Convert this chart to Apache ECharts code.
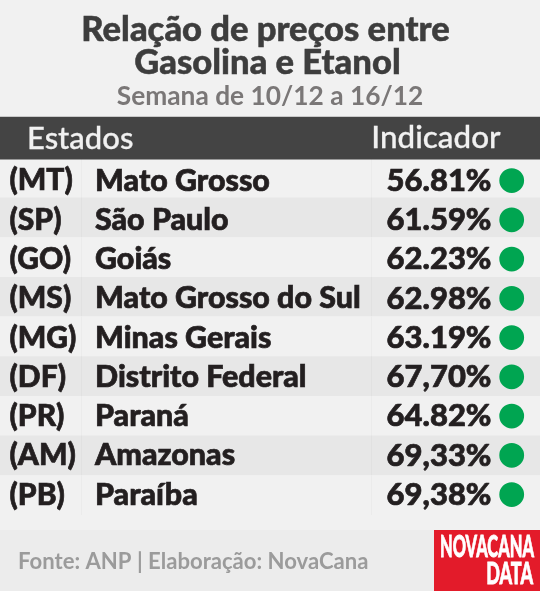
<!DOCTYPE html>
<html><head><meta charset="utf-8">
<style>html,body{margin:0;padding:0;background:#f1f1f1}#c{width:540px;height:591px}</style>
<script src="https://cdn.jsdelivr.net/npm/echarts@6/dist/echarts.min.js"></script></head>
<body><div id="c"></div>
<script>
const titleLine1 = 'Relação de preços entre';
const titleLine2 = 'Gasolina e Etanol';
const subtitleText = 'Semana de 10/12 a 16/12';
const headerLeft = 'Estados';
const headerRight = 'Indicador';
const codes = ['(MT)','(SP)','(GO)','(MS)','(MG)','(DF)','(PR)','(AM)','(PB)'];
const states = ['Mato Grosso','São Paulo','Goiás','Mato Grosso do Sul','Minas Gerais','Distrito Federal','Paraná','Amazonas','Paraíba'];
const indicatorLabels = ['56.81%','61.59%','62.23%','62.98%','63.19%','67,70%','64.82%','69,33%','69,38%'];
const sourceText = 'Fonte: ANP | Elaboração: NovaCana';

const FONT = 'Lato';
const chart = echarts.init(document.getElementById('c'), null, {renderer:'canvas'});
const tableData = codes.map((c,i)=>[i,c,states[i],indicatorLabels[i]]);

function renderBand(params, api){
  const i = api.value(0);
  const yc = api.coord([0,i])[1];
  const h = api.size([0,1])[1];
  const top = yc - h/2;
  return {type:'group',children:[
    {type:'rect',shape:{x:0,y:top,width:540,height:h},style:{fill:i%2?'#e7e7e7':'#f1f1f1'}},
    {type:'rect',shape:{x:81,y:top,width:1,height:h},style:{fill:i%2?'#e1e1e1':'#ebebeb'}},
    {type:'rect',shape:{x:371,y:top,width:1,height:h},style:{fill:i%2?'#e1e1e1':'#ebebeb'}}
  ]};
}
function renderRow(params, api){
  const i = api.value(0);
  const yc = api.coord([0,i])[1];
  const xOf = v => api.coord([v,i])[0];
  const txt = (x,text,align,size) => ({type:'text',style:{x:xOf(x),y:yc+0.8,text,textAlign:align,textVerticalAlign:'middle',fill:'#231f20',stroke:'#231f20',lineWidth:0.7,font:`900 ${size}px ${FONT}`}});
  return {type:'group',children:[
    txt(9.5,api.value(1),'left',30),
    txt(95,api.value(2),'left',30.4),
    txt(491.5,api.value(3),'right',31),
    {type:'circle',shape:{cx:xOf(511.7),cy:yc+0.5,r:12.4},style:{fill:'#00a551'}}
  ]};
}

chart.setOption({
  animation:false,
  backgroundColor:'#f1f1f1',
  grid:[
    {left:0,right:0,top:157.9,height:357},
    {left:0,right:0,top:160.4,height:353.3}
  ],
  xAxis:[
    {type:'value',gridIndex:0,min:0,max:540,show:false},
    {type:'value',gridIndex:1,min:0,max:540,show:false}
  ],
  yAxis:[
    {type:'category',gridIndex:0,inverse:true,data:codes,show:false},
    {type:'category',gridIndex:1,inverse:true,data:codes,show:false}
  ],
  series:[
    {type:'custom',xAxisIndex:0,yAxisIndex:0,data:tableData,renderItem:renderBand,encode:{x:0,y:0},clip:false,silent:true,z:2},
    {type:'custom',xAxisIndex:1,yAxisIndex:1,data:tableData,renderItem:renderRow,encode:{x:0,y:0},clip:false,silent:true,z:3}
  ],
  graphic:[
    {type:'text',z:5,style:{x:265.5,y:30,text:titleLine1,textAlign:'center',textVerticalAlign:'middle',fill:'#3d3d3d',stroke:'#3d3d3d',lineWidth:0.5,font:`900 34.6px ${FONT}`}},
    {type:'text',z:5,style:{x:267.5,y:63,text:titleLine2,textAlign:'center',textVerticalAlign:'middle',fill:'#3d3d3d',stroke:'#3d3d3d',lineWidth:0.5,font:`900 34.6px ${FONT}`}},
    {type:'text',z:5,style:{x:270,y:97,text:subtitleText,textAlign:'center',textVerticalAlign:'middle',fill:'#7a7777',font:`700 26.3px ${FONT}`}},
    {type:'rect',z:5,shape:{x:0,y:117,width:540,height:42.5},style:{fill:'#444444'}},
    {type:'rect',z:5,shape:{x:0,y:116,width:540,height:1},style:{fill:'#c9c9c9'}},
    {type:'text',z:6,style:{x:27,y:139,text:headerLeft,textVerticalAlign:'middle',fill:'#f1f1f1',stroke:'#f1f1f1',lineWidth:0.3,font:`500 31px ${FONT}`}},
    {type:'text',z:6,style:{x:500.5,y:138,text:headerRight,textAlign:'right',textVerticalAlign:'middle',fill:'#f1f1f1',stroke:'#f1f1f1',lineWidth:0.3,font:`500 31.4px ${FONT}`}},
    {type:'rect',z:1,shape:{x:0,y:530,width:540,height:61},style:{fill:'#ececec'}},
    {type:'text',z:6,style:{x:18,y:562,text:sourceText,textVerticalAlign:'middle',fill:'#9b9b9b',font:`700 22.1px ${FONT}`}},
    {type:'rect',z:6,shape:{x:434,y:530,width:106,height:61},style:{fill:'#e31b2a'}},
    {type:'text',z:7,x:440,y:547,scaleX:0.53,style:{x:0,y:0,text:'NOVACANA',textVerticalAlign:'middle',fill:'#fff',stroke:'#fff',lineWidth:0.8,font:`900 31px ${FONT}`}},
    {type:'text',z:7,x:533,y:574,scaleX:0.58,style:{x:0,y:0,text:'DATA',textAlign:'right',textVerticalAlign:'middle',fill:'#fff',stroke:'#fff',lineWidth:0.8,font:`900 31px ${FONT}`}}
  ]
});
</script></body></html>
